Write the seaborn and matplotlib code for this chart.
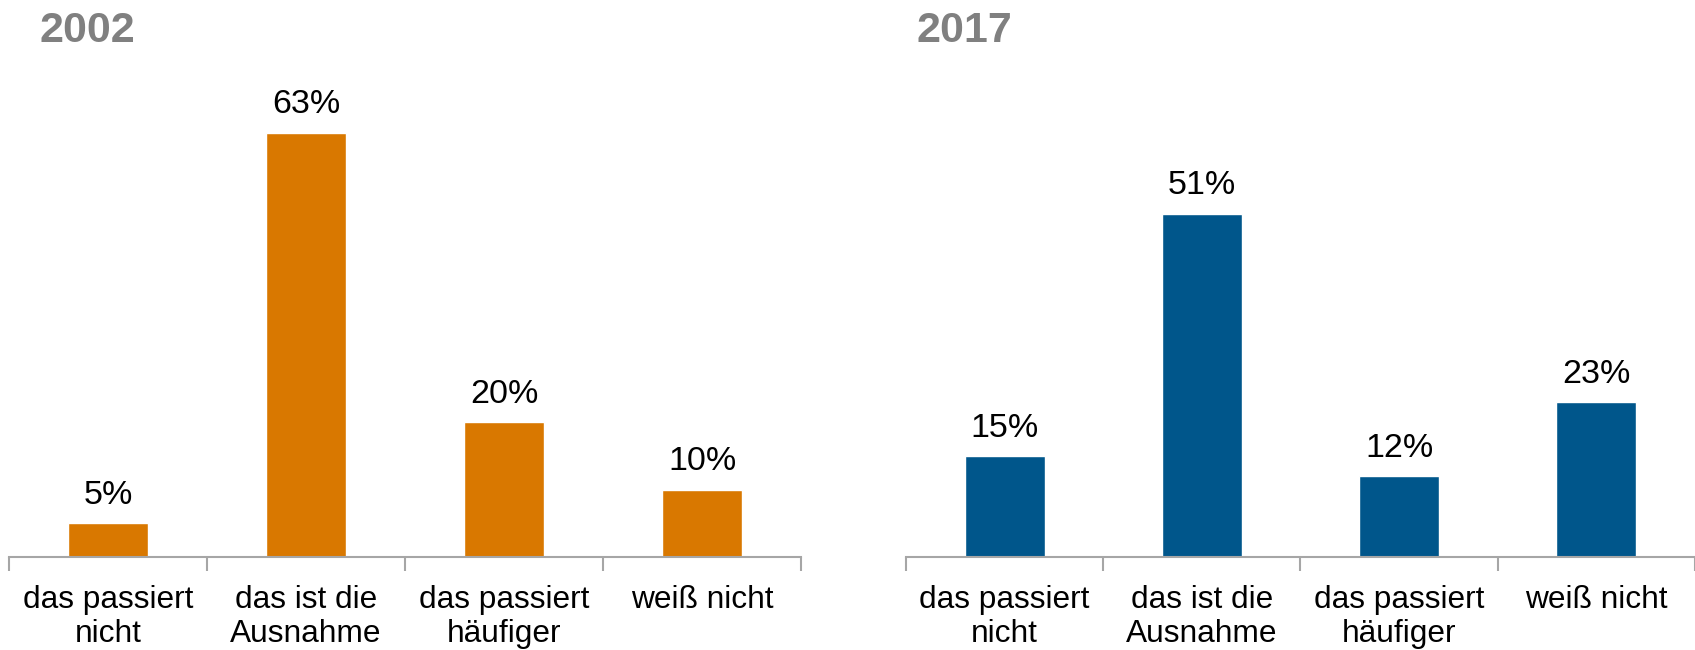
import matplotlib
matplotlib.use("Agg")
import matplotlib.pyplot as plt
import seaborn as sns
import pandas as pd
import numpy as np

categories = ["das passiert\nnicht", "das ist die\nAusnahme", "das passiert\nhäufiger", "weiß nicht"]
values_2002 = [5, 63, 20, 10]
values_2017 = [15, 51, 12, 23]
titles = ["2002", "2017"]
colors = ["#D97800", "#00568B"]

sns.set_theme(style="white")
plt.rcParams['font.family'] = ['Liberation Sans', 'DejaVu Sans']

fig = plt.figure(figsize=(16.95, 6.5), dpi=100)
ax_rects = [[0.0053, 0.143, 0.4673, 0.725], [0.5345, 0.143, 0.4655, 0.725]]

for rect, vals, title, col in zip(ax_rects, [values_2002, values_2017], titles, colors):
    ax = fig.add_axes(rect)
    df = pd.DataFrame({"cat": categories, "val": vals})
    sns.barplot(data=df, x="cat", y="val", color=col, width=0.405, ax=ax, saturation=1)
    ax.set_ylim(0, 70)
    ax.set_xlim(-0.5, 3.5)
    for c in ax.containers:
        ax.bar_label(c, labels=[f"{v}%" for v in vals], padding=9, fontsize=24.5, color="black")
    for s in ["top", "right", "left"]:
        ax.spines[s].set_visible(False)
    ax.spines["bottom"].set_color("#A6A6A6")
    ax.spines["bottom"].set_linewidth(1.5)
    ax.set_yticks([])
    ax.set_xlabel("")
    ax.set_ylabel("")
    ax.set_xticks(range(4))
    ax.set_xticklabels(categories, fontsize=22.8, linespacing=1.2, va="top")
    ax.tick_params(axis="x", which="major", length=0, pad=20, colors="black", bottom=True)
    ax.set_xticks(np.arange(-0.5, 4, 1), minor=True)
    ax.tick_params(axis="x", which="minor", length=10, width=1.5, color="#A6A6A6",
                   direction="out", bottom=True)
    fig.text(rect[0] + (0.018 if title == "2002" else 0.0065), 0.935, title, fontsize=31,
             fontweight="bold", color="#808080", ha="left", va="baseline")

fig.savefig("out.png", dpi=100)
